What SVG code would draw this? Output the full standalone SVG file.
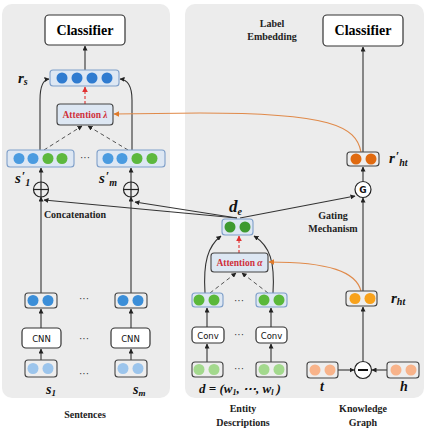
<svg xmlns="http://www.w3.org/2000/svg" width="427" height="431" viewBox="0 0 427 431">
  <style>
    .panel { fill: #ececec; stroke: none; }
    .box { fill: #ffffff; stroke: #333333; stroke-width: 1.2; }
    .vecB { fill: #dde7f3; stroke: #7f9fc9; stroke-width: 1.1; }
    .vecG { fill: #eeeeee; stroke: #444444; stroke-width: 1.1; }
    .att { fill: #dde7f3; stroke: #444444; stroke-width: 1.1; }
    .cls { font-family: "Liberation Serif", serif; font-weight: bold; font-size: 14px; fill: #000; text-anchor: middle; }
    .lbl { font-family: "Liberation Serif", serif; font-weight: bold; font-size: 10px; fill: #222; text-anchor: middle; }
    .sym { font-family: "Liberation Serif", serif; font-weight: bold; font-style: italic; fill: #111; }
    .atxt { font-family: "Liberation Serif", serif; font-weight: bold; font-size: 9.5px; fill: #d0303a; text-anchor: middle; }
    .sans { font-family: "DejaVu Sans", sans-serif; font-size: 8.5px; fill: #111; text-anchor: middle; }
    .dots { font-family: "Liberation Sans", sans-serif; font-size: 10px; fill: #333; text-anchor: middle; }
    .ln { fill: none; stroke: #333333; stroke-width: 1.1; }
    .dash { fill: none; stroke: #555555; stroke-width: 1; stroke-dasharray: 4 3; }
    .red { fill: none; stroke: #e03030; stroke-width: 1.1; stroke-dasharray: 3 2; }
    .org { fill: none; stroke: #e08a4a; stroke-width: 1.2; }
  </style>
  <defs>
    <marker id="ah" viewBox="0 0 10 10" refX="9" refY="5" markerWidth="5" markerHeight="5" orient="auto-start-reverse" markerUnits="userSpaceOnUse">
      <path d="M0,0 L10,5 L0,10 z" fill="#222"/>
    </marker>
    <marker id="ahr" viewBox="0 0 10 10" refX="9" refY="5" markerWidth="6" markerHeight="6" orient="auto" markerUnits="userSpaceOnUse">
      <path d="M0,0 L10,5 L0,10 z" fill="#e03030"/>
    </marker>
    <marker id="aho" viewBox="0 0 10 10" refX="9" refY="5" markerWidth="6" markerHeight="6" orient="auto" markerUnits="userSpaceOnUse">
      <path d="M0,0 L10,5 L0,10 z" fill="#e07a2a"/>
    </marker>
  </defs>

  <!-- panels -->
  <rect class="panel" x="2" y="4" width="168" height="394" rx="10"/>
  <rect class="panel" x="185" y="4" width="239" height="394" rx="10"/>

  <!-- connectors -->
  <g id="connectors">
    <!-- sentence branch -->
    <line class="ln" x1="41" y1="360" x2="41" y2="349" marker-end="url(#ah)"/>
    <line class="ln" x1="131" y1="360" x2="131" y2="349" marker-end="url(#ah)"/>
    <line class="ln" x1="41" y1="328" x2="41" y2="309" marker-end="url(#ah)"/>
    <line class="ln" x1="131" y1="328" x2="131" y2="309" marker-end="url(#ah)"/>
    <line class="ln" x1="41" y1="293" x2="41" y2="197" marker-end="url(#ah)"/>
    <line class="ln" x1="131" y1="293" x2="131" y2="197" marker-end="url(#ah)"/>
    <line class="ln" x1="41" y1="182" x2="41" y2="168" marker-end="url(#ah)"/>
    <line class="ln" x1="131" y1="182" x2="131" y2="168" marker-end="url(#ah)"/>
    <path class="ln" d="M40,150 L40,100 Q40,80 49,79" marker-end="url(#ah)"/>
    <path class="ln" d="M132,150 L132,100 Q132,80 120,79" marker-end="url(#ah)"/>
    <line class="dash" x1="44" y1="150" x2="82" y2="126" marker-end="url(#ah)"/>
    <line class="dash" x1="128" y1="150" x2="88" y2="126" marker-end="url(#ah)"/>
    <line class="red" x1="85" y1="104" x2="85" y2="87" marker-end="url(#ahr)"/>
    <line class="ln" x1="85" y1="70" x2="85" y2="46" marker-end="url(#ah)"/>

    <!-- entity description branch -->
    <line class="ln" x1="207" y1="362" x2="207" y2="344" marker-end="url(#ah)"/>
    <line class="ln" x1="271" y1="362" x2="271" y2="344" marker-end="url(#ah)"/>
    <line class="ln" x1="207" y1="327" x2="207" y2="308" marker-end="url(#ah)"/>
    <line class="ln" x1="271" y1="327" x2="271" y2="308" marker-end="url(#ah)"/>
    <line class="dash" x1="210" y1="293" x2="236" y2="273" marker-end="url(#ah)"/>
    <line class="dash" x1="268" y1="293" x2="242" y2="273" marker-end="url(#ah)"/>
    <path class="ln" d="M205,293 C203,262 208,246 221,236" marker-end="url(#ah)"/>
    <path class="ln" d="M273,293 C275,262 270,246 254,236" marker-end="url(#ah)"/>
    <line class="red" x1="239" y1="253" x2="239" y2="236" marker-end="url(#ahr)"/>
    <line class="ln" x1="237" y1="218" x2="44" y2="200" marker-end="url(#ah)"/>
    <line class="ln" x1="237" y1="218" x2="135" y2="202" marker-end="url(#ah)"/>
    <line class="ln" x1="240" y1="218" x2="355" y2="196" marker-end="url(#ah)"/>

    <!-- knowledge graph branch -->
    <line class="ln" x1="338" y1="370" x2="354" y2="370" marker-end="url(#ah)"/>
    <line class="ln" x1="387" y1="370" x2="372" y2="370" marker-end="url(#ah)"/>
    <line class="ln" x1="363" y1="361" x2="363" y2="307" marker-end="url(#ah)"/>
    <line class="ln" x1="363" y1="291" x2="363" y2="198" marker-end="url(#ah)"/>
    <line class="ln" x1="363" y1="181" x2="363" y2="167" marker-end="url(#ah)"/>
    <line class="ln" x1="363" y1="152" x2="363" y2="47" marker-end="url(#ah)"/>

    <!-- relation-guided attention -->
    <path class="org" d="M361,291 C356,272 330,262 269,262" marker-end="url(#aho)"/>
    <path class="org" d="M361,152 C356,126 330,113 200,113 L114,114" marker-end="url(#aho)"/>
  </g>

  <!-- sentence encoder -->
  <g id="classifier-left">
    <rect class="box" x="45" y="15" width="80" height="30" rx="4"/>
    <text class="cls" x="85" y="35">Classifier</text>
  </g>
  <g id="r-s">
    <rect class="vecB" x="50" y="70" width="69" height="16" rx="3"/>
    <circle cx="62" cy="78" r="5.5" fill="#2f7bd0"/>
    <circle cx="77" cy="78" r="5.5" fill="#2f7bd0"/>
    <circle cx="92" cy="78" r="5.5" fill="#2f7bd0"/>
    <circle cx="107" cy="78" r="5.5" fill="#2f7bd0"/>
    <text class="sym" x="18" y="83" font-size="15">r<tspan font-size="10" dy="2">s</tspan></text>
  </g>
  <g id="attention-lambda">
    <rect class="att" x="57" y="104" width="56" height="21" rx="3"/>
    <text class="atxt" x="85" y="118">Attention <tspan font-style="italic">λ</tspan></text>
  </g>
  <g id="s1-prime">
    <rect class="vecB" x="7" y="150" width="67" height="17" rx="3"/>
    <circle cx="19" cy="158.5" r="5.5" fill="#4a9be0"/>
    <circle cx="33" cy="158.5" r="5.5" fill="#4a9be0"/>
    <circle cx="48" cy="158.5" r="5.5" fill="#5cb83e"/>
    <circle cx="62" cy="158.5" r="5.5" fill="#5cb83e"/>
    <text class="sym" x="15" y="183" font-size="15">s<tspan font-size="12" dx="1" dy="-3">′</tspan><tspan font-size="10" dy="6">1</tspan></text>
  </g>
  <text class="dots" x="85" y="161">···</text>
  <g id="sm-prime">
    <rect class="vecB" x="97" y="150" width="68" height="17" rx="3"/>
    <circle cx="108" cy="158.5" r="5.5" fill="#4a9be0"/>
    <circle cx="122" cy="158.5" r="5.5" fill="#4a9be0"/>
    <circle cx="137" cy="158.5" r="5.5" fill="#5cb83e"/>
    <circle cx="152" cy="158.5" r="5.5" fill="#5cb83e"/>
    <text class="sym" x="99" y="183" font-size="15">s<tspan font-size="12" dx="1" dy="-3">′</tspan><tspan font-size="10" dy="6">m</tspan></text>
  </g>
  <g id="concat-1">
    <circle cx="41" cy="189.5" r="7.5" fill="none" stroke="#222" stroke-width="1.2"/>
    <line x1="33.5" y1="189.5" x2="48.5" y2="189.5" stroke="#222" stroke-width="1.2"/>
    <line x1="41" y1="182" x2="41" y2="197" stroke="#222" stroke-width="1.2"/>
  </g>
  <g id="concat-m">
    <circle cx="131" cy="189.5" r="7.5" fill="none" stroke="#222" stroke-width="1.2"/>
    <line x1="123.5" y1="189.5" x2="138.5" y2="189.5" stroke="#222" stroke-width="1.2"/>
    <line x1="131" y1="182" x2="131" y2="197" stroke="#222" stroke-width="1.2"/>
  </g>
  <text class="lbl" x="75" y="218">Concatenation</text>

  <g id="s1-enc">
    <rect class="vecG" x="25" y="293" width="32" height="15" rx="3"/>
    <circle cx="33" cy="300.5" r="5.5" fill="#3b8ed8"/>
    <circle cx="48" cy="300.5" r="5.5" fill="#3b8ed8"/>
  </g>
  <g id="sm-enc">
    <rect class="vecG" x="115" y="293" width="32" height="15" rx="3"/>
    <circle cx="123" cy="300.5" r="5.5" fill="#3b8ed8"/>
    <circle cx="138" cy="300.5" r="5.5" fill="#3b8ed8"/>
  </g>
  <g id="cnn-1">
    <rect class="box" x="22" y="328" width="39" height="20" rx="4"/>
    <text class="sans" x="41.5" y="341.5">CNN</text>
  </g>
  <g id="cnn-m">
    <rect class="box" x="111" y="328" width="39" height="20" rx="4"/>
    <text class="sans" x="130.5" y="341.5">CNN</text>
  </g>
  <g id="s1-in">
    <rect class="vecG" x="25" y="360" width="32" height="17" rx="3"/>
    <circle cx="33" cy="368.5" r="5.5" fill="#9cc5ec"/>
    <circle cx="48" cy="368.5" r="5.5" fill="#9cc5ec"/>
    <text class="sym" x="46" y="394" font-size="14">s<tspan font-size="9" dy="2">1</tspan></text>
  </g>
  <g id="sm-in">
    <rect class="vecG" x="115" y="360" width="32" height="17" rx="3"/>
    <circle cx="123" cy="368.5" r="5.5" fill="#9cc5ec"/>
    <circle cx="138" cy="368.5" r="5.5" fill="#9cc5ec"/>
    <text class="sym" x="133" y="394" font-size="14">s<tspan font-size="9" dy="2">m</tspan></text>
  </g>
  <text class="dots" x="84" y="302">···</text>
  <text class="dots" x="84" y="342">···</text>
  <text class="dots" x="84" y="377">···</text>
  <text class="lbl" x="85" y="418" font-size="11">Sentences</text>

  <!-- entity description encoder -->
  <g id="d-e">
    <rect class="vecB" x="222" y="219" width="31" height="16" rx="3"/>
    <circle cx="230" cy="227" r="5.5" fill="#3e9a30"/>
    <circle cx="245" cy="227" r="5.5" fill="#3e9a30"/>
    <text class="sym" x="229" y="212" font-size="17">d<tspan font-size="10" dy="3">e</tspan></text>
  </g>
  <g id="attention-alpha">
    <rect class="att" x="211" y="253" width="57" height="19" rx="3"/>
    <text class="atxt" x="239.5" y="266">Attention <tspan font-style="italic">α</tspan></text>
  </g>
  <g id="desc-enc-1">
    <rect class="vecB" x="192" y="293" width="31" height="14" rx="3"/>
    <circle cx="199" cy="300" r="5.5" fill="#5ab83a"/>
    <circle cx="214" cy="300" r="5.5" fill="#5ab83a"/>
  </g>
  <g id="desc-enc-l">
    <rect class="vecB" x="256" y="293" width="31" height="14" rx="3"/>
    <circle cx="264" cy="300" r="5.5" fill="#5ab83a"/>
    <circle cx="279" cy="300" r="5.5" fill="#5ab83a"/>
  </g>
  <g id="conv-1">
    <rect class="box" x="192" y="327" width="32" height="16" rx="4"/>
    <text class="sans" x="208" y="338.5">Conv</text>
  </g>
  <g id="conv-l">
    <rect class="box" x="256" y="327" width="31" height="16" rx="4"/>
    <text class="sans" x="271.5" y="338.5">Conv</text>
  </g>
  <g id="word-1">
    <rect class="vecG" x="192" y="362" width="31" height="15" rx="3"/>
    <circle cx="199" cy="369.5" r="5.5" fill="#a3d98d"/>
    <circle cx="214" cy="369.5" r="5.5" fill="#a3d98d"/>
  </g>
  <g id="word-l">
    <rect class="vecG" x="256" y="362" width="31" height="15" rx="3"/>
    <circle cx="264" cy="369.5" r="5.5" fill="#a3d98d"/>
    <circle cx="279" cy="369.5" r="5.5" fill="#a3d98d"/>
  </g>
  <text class="dots" x="239" y="304">···</text>
  <text class="dots" x="239" y="338">···</text>
  <text class="dots" x="239" y="372">···</text>
  <text class="sym" x="240" y="393" font-size="13" text-anchor="middle">d = (w<tspan font-size="8" dy="2">1</tspan><tspan dy="-2">, ⋯, w</tspan><tspan font-size="8" dy="2">l</tspan><tspan dy="-2"> )</tspan></text>
  <text class="lbl" x="243" y="412" font-size="11">Entity</text>
  <text class="lbl" x="243" y="426" font-size="11">Descriptions</text>

  <!-- knowledge graph encoder -->
  <g id="classifier-right">
    <rect class="box" x="323" y="15" width="80" height="31" rx="4"/>
    <text class="cls" x="363" y="35">Classifier</text>
  </g>
  <text class="lbl" x="272" y="27">Label</text>
  <text class="lbl" x="272" y="40">Embedding</text>
  <g id="r-ht-prime">
    <rect class="vecG" x="347" y="152" width="32" height="14" rx="3"/>
    <circle cx="356" cy="159" r="5.5" fill="#e06a10"/>
    <circle cx="371" cy="159" r="5.5" fill="#e06a10"/>
    <text class="sym" x="389" y="163" font-size="15">r<tspan font-size="12" dx="1" dy="-3">′</tspan><tspan font-size="10" dy="6">ht</tspan></text>
  </g>
  <g id="gate">
    <circle cx="363" cy="189.5" r="8" fill="#ffffff" stroke="#222" stroke-width="1.2"/>
    <text x="363" y="193" font-family="DejaVu Sans, sans-serif" font-size="9" font-weight="bold" text-anchor="middle" fill="#111">G</text>
  </g>
  <text class="lbl" x="333" y="219">Gating</text>
  <text class="lbl" x="333" y="232">Mechanism</text>
  <g id="r-ht">
    <rect class="vecG" x="346" y="291" width="31" height="15" rx="3"/>
    <circle cx="355" cy="298.5" r="5.5" fill="#f8a21c"/>
    <circle cx="370" cy="298.5" r="5.5" fill="#f8a21c"/>
    <text class="sym" x="391" y="303" font-size="15">r<tspan font-size="10" dy="2">ht</tspan></text>
  </g>
  <g id="minus">
    <circle cx="363" cy="370" r="8.5" fill="#ffffff" stroke="#222" stroke-width="1.2"/>
    <line x1="358" y1="370" x2="368" y2="370" stroke="#111" stroke-width="2"/>
  </g>
  <g id="tail">
    <rect class="vecG" x="307" y="362" width="31" height="16" rx="3"/>
    <circle cx="315" cy="370" r="5.5" fill="#f8b38a"/>
    <circle cx="330" cy="370" r="5.5" fill="#f8b38a"/>
    <text class="sym" x="320" y="391" font-size="14">t</text>
  </g>
  <g id="head">
    <rect class="vecG" x="387" y="362" width="32" height="16" rx="3"/>
    <circle cx="396" cy="370" r="5.5" fill="#f8b38a"/>
    <circle cx="411" cy="370" r="5.5" fill="#f8b38a"/>
    <text class="sym" x="400" y="391" font-size="14">h</text>
  </g>
  <text class="lbl" x="363" y="412" font-size="11">Knowledge</text>
  <text class="lbl" x="363" y="426" font-size="11">Graph</text>
</svg>
